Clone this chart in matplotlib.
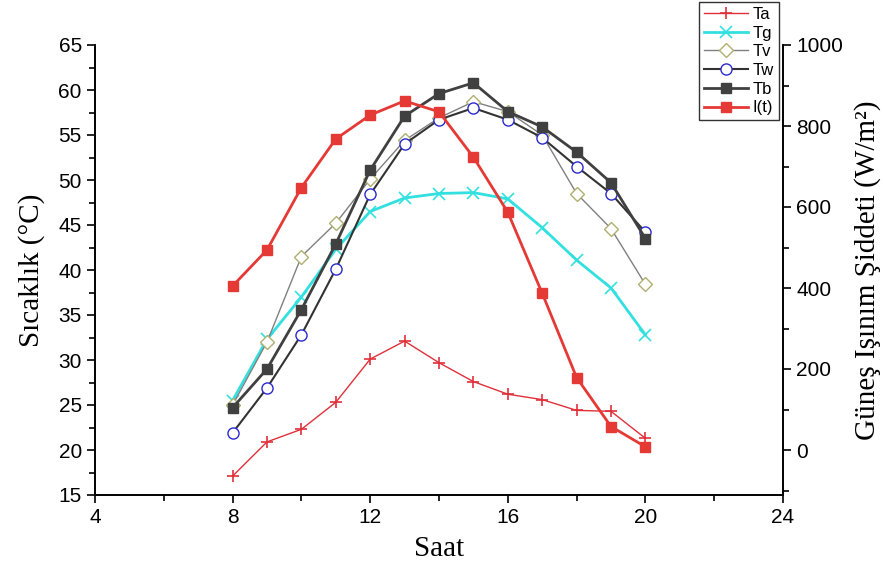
import matplotlib.pyplot as plt
from matplotlib.ticker import MultipleLocator

saat = [8, 9, 10, 11, 12, 13, 14, 15, 16, 17, 18, 19, 20]

ta = [17.1, 20.9, 22.3, 25.3, 30.1, 32.1, 29.7, 27.6, 26.2, 25.6, 24.4, 24.3, 21.3]
tg = [25.5, 32.3, 37.0, 42.3, 46.5, 48.0, 48.5, 48.6, 47.9, 44.7, 41.1, 38.0, 32.8]
tv = [25.0, 32.0, 41.5, 45.2, 50.1, 54.4, 56.9, 58.7, 57.6, 55.0, 48.5, 44.6, 38.4]
tw = [21.9, 26.9, 32.8, 40.1, 48.4, 54.0, 56.7, 58.0, 56.7, 54.7, 51.5, 48.5, 44.2]
tb = [24.7, 29.0, 35.6, 42.9, 51.1, 57.1, 59.6, 60.8, 57.6, 55.9, 53.1, 49.7, 43.5]
isinim = [405, 494, 648, 768, 827, 862, 835, 723, 587, 387, 179, 58, 8]

sans = ['Liberation Sans', 'DejaVu Sans']
serif = ['Liberation Serif', 'DejaVu Serif']
plt.rcParams['font.family'] = sans

fig = plt.figure(figsize=(8.83, 5.67), dpi=100)
ax = fig.add_axes([95 / 883, 1 - 495 / 567, (783 - 95) / 883, (495 - 45) / 567])
ax2 = ax.twinx()

l_ta, = ax.plot(saat, ta, color='#e0303a', lw=1, marker='+', ms=8, mew=1.2)
l_tg, = ax.plot(saat, tg, color='#33e0e0', lw=2, marker='x', ms=8, mew=1.2)
l_tv, = ax.plot(saat, tv, color='#808080', lw=1, marker='D', ms=7,
                mfc='white', mec='#b0b070', mew=1)
l_tw, = ax.plot(saat, tw, color='#333333', lw=1.5, marker='o', ms=8,
                mfc='white', mec='#2a2acc', mew=1)
l_tb, = ax.plot(saat, tb, color='#404040', lw=2, marker='s', ms=7,
                mfc='#404040', mec='#404040')
l_it, = ax2.plot(saat, isinim, color='#e53935', lw=2, marker='s', ms=7,
                 mfc='#e53935', mec='#e53935')

ax.set_xlim(4, 24)
ax.set_ylim(15, 65)
ax2.set_ylim(-1000 / 9, 1000)

ax.xaxis.set_major_locator(MultipleLocator(4))
ax.xaxis.set_minor_locator(MultipleLocator(2))
ax.yaxis.set_major_locator(MultipleLocator(5))
ax.yaxis.set_minor_locator(MultipleLocator(2.5))
ax2.yaxis.set_major_locator(MultipleLocator(200))
ax2.yaxis.set_minor_locator(MultipleLocator(100))

for a in (ax, ax2):
    a.spines['top'].set_visible(False)
    for s in a.spines.values():
        s.set_linewidth(1.2)
    a.tick_params(which='major', direction='out', length=6, width=1.2, labelsize=15)
    a.tick_params(which='minor', direction='out', length=4, width=1.2)

ax.set_xlabel('Saat', family=serif, fontsize=21, labelpad=6)
ax.set_ylabel('Sıcaklık (°C)', family=serif, fontsize=21, labelpad=10)
ax2.set_ylabel('Güneş Işınım Şiddeti (W/m²)', family=serif, fontsize=21, labelpad=8)

handles = [l_ta, l_tg, l_tv, l_tw, l_tb, l_it]
labels = ['Ta', 'Tg', 'Tv', 'Tw', 'Tb', 'I(t)']
leg = fig.legend(handles, labels, loc='upper right',
                 bbox_to_anchor=(779 / 883, 1 - 2 / 567),
                 fontsize=12, fancybox=False, framealpha=1, edgecolor='#333333',
                 handlelength=2.6, borderpad=0.3, labelspacing=0.22,
                 handletextpad=0.3, borderaxespad=0)
leg.get_frame().set_linewidth(1)

fig.savefig('out.png', dpi=100)
